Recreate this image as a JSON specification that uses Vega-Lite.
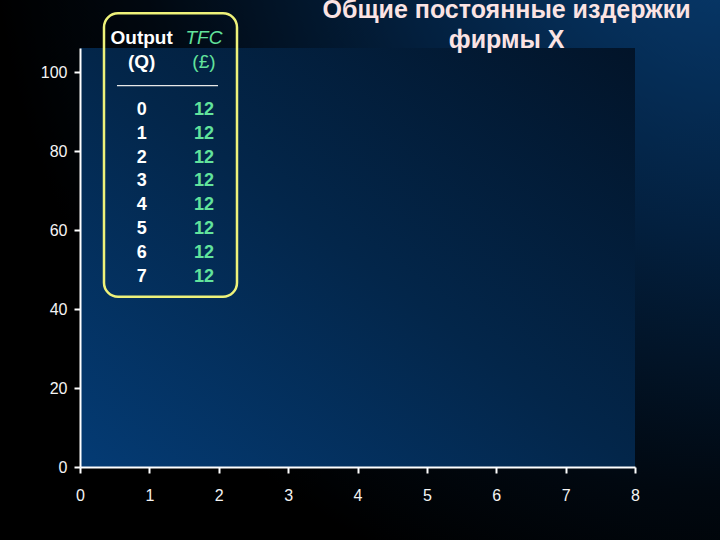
{
  "$schema": "https://vega.github.io/schema/vega-lite/v6.json",
  "width": 555,
  "height": 419,
  "autosize": {"type": "none"},
  "padding": {"left": 80, "top": 48, "right": 85, "bottom": 73},
  "background": "#000000",
  "config": {
    "view": {"stroke": null},
    "font": "Liberation Sans",
    "axis": {
      "grid": false,
      "domainColor": "#ffffff",
      "domainWidth": 2,
      "tickColor": "#ffffff",
      "tickWidth": 2,
      "tickSize": 6,
      "labelColor": "#f4f4f4",
      "labelFont": "Liberation Sans",
      "labelFontSize": 16
    }
  },
  "datasets": {
    "rows": [
      {"Q": 0, "TFC": 12},
      {"Q": 1, "TFC": 12},
      {"Q": 2, "TFC": 12},
      {"Q": 3, "TFC": 12},
      {"Q": 4, "TFC": 12},
      {"Q": 5, "TFC": 12},
      {"Q": 6, "TFC": 12},
      {"Q": 7, "TFC": 12}
    ],
    "one": [{}]
  },
  "layer": [
    {
      "data": {"name": "rows"},
      "mark": {"type": "point", "opacity": 0},
      "encoding": {
        "x": {"field": "Q", "type": "quantitative", "title": null,
              "scale": {"domain": [0, 8], "nice": false, "zero": false},
              "axis": {"values": [0, 1, 2, 3, 4, 5, 6, 7, 8], "format": "d", "labelPadding": 14, "labelFlush": false, "title": null, "zindex": 2}},
        "y": {"field": "TFC", "type": "quantitative", "title": null,
              "scale": {"domain": [0, 106.2], "nice": false, "zero": false},
              "axis": {"values": [0, 20, 40, 60, 80, 100], "format": "d", "labelPadding": 7, "labelFlush": false, "title": null, "zindex": 2}}
      }
    },
    {
      "data": {"name": "one"},
      "mark": {
        "type": "rect",
        "clip": false,
        "fill": {
          "gradient": "radial",
          "x1": 1, "y1": 0, "r1": 0,
          "x2": 1, "y2": 0, "r2": 1,
          "stops": [
            {"offset": 0, "color": "#083e74"},
            {"offset": 0.45, "color": "#03203f"},
            {"offset": 0.8, "color": "#010810"},
            {"offset": 1, "color": "#000000"}
          ]
        }
      },
      "encoding": {
        "x": {"datum": -1.3, "type": "quantitative"},
        "x2": {"datum": 9.4},
        "y": {"datum": -20, "type": "quantitative"},
        "y2": {"datum": 120}
      }
    },
    {
      "data": {"name": "one"},
      "mark": {
        "type": "rect",
        "fill": {
          "gradient": "linear",
          "x1": 0, "y1": 1, "x2": 1, "y2": 0,
          "stops": [
            {"offset": 0, "color": "#043b74"},
            {"offset": 0.5, "color": "#03264a"},
            {"offset": 1, "color": "#021429"}
          ]
        }
      },
      "encoding": {
        "x": {"datum": 0, "type": "quantitative"},
        "x2": {"datum": 8},
        "y": {"datum": 0, "type": "quantitative"},
        "y2": {"datum": 106.2}
      }
    },
    {
      "data": {"name": "one"},
      "mark": {"type": "rect", "fill": null, "fillOpacity": 0, "stroke": "#eef27a", "strokeWidth": 2.5, "cornerRadius": 14, "clip": false},
      "encoding": {
        "x": {"datum": 0.346, "type": "quantitative"},
        "x2": {"datum": 2.263},
        "y": {"datum": 43.17, "type": "quantitative"},
        "y2": {"datum": 115.0}
      }
    },
    {
      "data": {"name": "one"},
      "mark": {"type": "rule", "stroke": "#e8e8e8", "strokeWidth": 1.2},
      "encoding": {
        "x": {"datum": 0.533, "type": "quantitative"},
        "x2": {"datum": 1.989},
        "y": {"datum": 96.65, "type": "quantitative"}
      }
    },
    {
      "data": {"name": "one"},
      "mark": {"type": "text", "text": "Output", "fontSize": 19, "fontWeight": "bold", "fill": "#ffffff", "align": "center", "baseline": "middle", "clip": false},
      "encoding": {"x": {"datum": 0.889, "type": "quantitative"}, "y": {"datum": 108.67, "type": "quantitative"}}
    },
    {
      "data": {"name": "one"},
      "mark": {"type": "text", "text": "(Q)", "fontSize": 19, "fontWeight": "bold", "fill": "#ffffff", "align": "center", "baseline": "middle"},
      "encoding": {"x": {"datum": 0.889, "type": "quantitative"}, "y": {"datum": 102.74, "type": "quantitative"}}
    },
    {
      "data": {"name": "one"},
      "mark": {"type": "text", "text": "TFC", "fontSize": 19, "fontStyle": "italic", "fill": "#62e39c", "align": "center", "baseline": "middle", "clip": false},
      "encoding": {"x": {"datum": 1.787, "type": "quantitative"}, "y": {"datum": 108.67, "type": "quantitative"}}
    },
    {
      "data": {"name": "one"},
      "mark": {"type": "text", "text": "(£)", "fontSize": 19, "fill": "#62e39c", "align": "center", "baseline": "middle"},
      "encoding": {"x": {"datum": 1.787, "type": "quantitative"}, "y": {"datum": 102.74, "type": "quantitative"}}
    },
    {
      "data": {"name": "one"},
      "mark": {"type": "text", "text": ["Общие постоянные издержки", "фирмы X"], "fontSize": 25, "fontWeight": "bold", "fill": "#fbe3e3", "align": "center", "baseline": "alphabetic", "lineHeight": 30, "clip": false},
      "encoding": {"x": {"datum": 6.15, "type": "quantitative"}, "y": {"datum": 113.8, "type": "quantitative"}}
    },
    {"data": {"name": "rows"}, "transform": [{"filter": "datum.Q == 0"}],
     "mark": {"type": "text", "fontSize": 18, "fontWeight": "bold", "fill": "#ffffff", "align": "center", "baseline": "middle"},
     "encoding": {"x": {"datum": 0.889, "type": "quantitative"}, "y": {"datum": 90.49, "type": "quantitative"}, "text": {"field": "Q", "type": "quantitative"}}},
    {"data": {"name": "rows"}, "transform": [{"filter": "datum.Q == 1"}],
     "mark": {"type": "text", "fontSize": 18, "fontWeight": "bold", "fill": "#ffffff", "align": "center", "baseline": "middle"},
     "encoding": {"x": {"datum": 0.889, "type": "quantitative"}, "y": {"datum": 84.46, "type": "quantitative"}, "text": {"field": "Q", "type": "quantitative"}}},
    {"data": {"name": "rows"}, "transform": [{"filter": "datum.Q == 2"}],
     "mark": {"type": "text", "fontSize": 18, "fontWeight": "bold", "fill": "#ffffff", "align": "center", "baseline": "middle"},
     "encoding": {"x": {"datum": 0.889, "type": "quantitative"}, "y": {"datum": 78.42, "type": "quantitative"}, "text": {"field": "Q", "type": "quantitative"}}},
    {"data": {"name": "rows"}, "transform": [{"filter": "datum.Q == 3"}],
     "mark": {"type": "text", "fontSize": 18, "fontWeight": "bold", "fill": "#ffffff", "align": "center", "baseline": "middle"},
     "encoding": {"x": {"datum": 0.889, "type": "quantitative"}, "y": {"datum": 72.39, "type": "quantitative"}, "text": {"field": "Q", "type": "quantitative"}}},
    {"data": {"name": "rows"}, "transform": [{"filter": "datum.Q == 4"}],
     "mark": {"type": "text", "fontSize": 18, "fontWeight": "bold", "fill": "#ffffff", "align": "center", "baseline": "middle"},
     "encoding": {"x": {"datum": 0.889, "type": "quantitative"}, "y": {"datum": 66.35, "type": "quantitative"}, "text": {"field": "Q", "type": "quantitative"}}},
    {"data": {"name": "rows"}, "transform": [{"filter": "datum.Q == 5"}],
     "mark": {"type": "text", "fontSize": 18, "fontWeight": "bold", "fill": "#ffffff", "align": "center", "baseline": "middle"},
     "encoding": {"x": {"datum": 0.889, "type": "quantitative"}, "y": {"datum": 60.32, "type": "quantitative"}, "text": {"field": "Q", "type": "quantitative"}}},
    {"data": {"name": "rows"}, "transform": [{"filter": "datum.Q == 6"}],
     "mark": {"type": "text", "fontSize": 18, "fontWeight": "bold", "fill": "#ffffff", "align": "center", "baseline": "middle"},
     "encoding": {"x": {"datum": 0.889, "type": "quantitative"}, "y": {"datum": 54.28, "type": "quantitative"}, "text": {"field": "Q", "type": "quantitative"}}},
    {"data": {"name": "rows"}, "transform": [{"filter": "datum.Q == 7"}],
     "mark": {"type": "text", "fontSize": 18, "fontWeight": "bold", "fill": "#ffffff", "align": "center", "baseline": "middle"},
     "encoding": {"x": {"datum": 0.889, "type": "quantitative"}, "y": {"datum": 48.25, "type": "quantitative"}, "text": {"field": "Q", "type": "quantitative"}}},
    {"data": {"name": "rows"}, "transform": [{"filter": "datum.Q == 0"}],
     "mark": {"type": "text", "fontSize": 18, "fontWeight": "bold", "fill": "#62e39c", "align": "center", "baseline": "middle"},
     "encoding": {"x": {"datum": 1.787, "type": "quantitative"}, "y": {"datum": 90.49, "type": "quantitative"}, "text": {"field": "TFC", "type": "quantitative"}}},
    {"data": {"name": "rows"}, "transform": [{"filter": "datum.Q == 1"}],
     "mark": {"type": "text", "fontSize": 18, "fontWeight": "bold", "fill": "#62e39c", "align": "center", "baseline": "middle"},
     "encoding": {"x": {"datum": 1.787, "type": "quantitative"}, "y": {"datum": 84.46, "type": "quantitative"}, "text": {"field": "TFC", "type": "quantitative"}}},
    {"data": {"name": "rows"}, "transform": [{"filter": "datum.Q == 2"}],
     "mark": {"type": "text", "fontSize": 18, "fontWeight": "bold", "fill": "#62e39c", "align": "center", "baseline": "middle"},
     "encoding": {"x": {"datum": 1.787, "type": "quantitative"}, "y": {"datum": 78.42, "type": "quantitative"}, "text": {"field": "TFC", "type": "quantitative"}}},
    {"data": {"name": "rows"}, "transform": [{"filter": "datum.Q == 3"}],
     "mark": {"type": "text", "fontSize": 18, "fontWeight": "bold", "fill": "#62e39c", "align": "center", "baseline": "middle"},
     "encoding": {"x": {"datum": 1.787, "type": "quantitative"}, "y": {"datum": 72.39, "type": "quantitative"}, "text": {"field": "TFC", "type": "quantitative"}}},
    {"data": {"name": "rows"}, "transform": [{"filter": "datum.Q == 4"}],
     "mark": {"type": "text", "fontSize": 18, "fontWeight": "bold", "fill": "#62e39c", "align": "center", "baseline": "middle"},
     "encoding": {"x": {"datum": 1.787, "type": "quantitative"}, "y": {"datum": 66.35, "type": "quantitative"}, "text": {"field": "TFC", "type": "quantitative"}}},
    {"data": {"name": "rows"}, "transform": [{"filter": "datum.Q == 5"}],
     "mark": {"type": "text", "fontSize": 18, "fontWeight": "bold", "fill": "#62e39c", "align": "center", "baseline": "middle"},
     "encoding": {"x": {"datum": 1.787, "type": "quantitative"}, "y": {"datum": 60.32, "type": "quantitative"}, "text": {"field": "TFC", "type": "quantitative"}}},
    {"data": {"name": "rows"}, "transform": [{"filter": "datum.Q == 6"}],
     "mark": {"type": "text", "fontSize": 18, "fontWeight": "bold", "fill": "#62e39c", "align": "center", "baseline": "middle"},
     "encoding": {"x": {"datum": 1.787, "type": "quantitative"}, "y": {"datum": 54.28, "type": "quantitative"}, "text": {"field": "TFC", "type": "quantitative"}}},
    {"data": {"name": "rows"}, "transform": [{"filter": "datum.Q == 7"}],
     "mark": {"type": "text", "fontSize": 18, "fontWeight": "bold", "fill": "#62e39c", "align": "center", "baseline": "middle"},
     "encoding": {"x": {"datum": 1.787, "type": "quantitative"}, "y": {"datum": 48.25, "type": "quantitative"}, "text": {"field": "TFC", "type": "quantitative"}}}
  ]
}
